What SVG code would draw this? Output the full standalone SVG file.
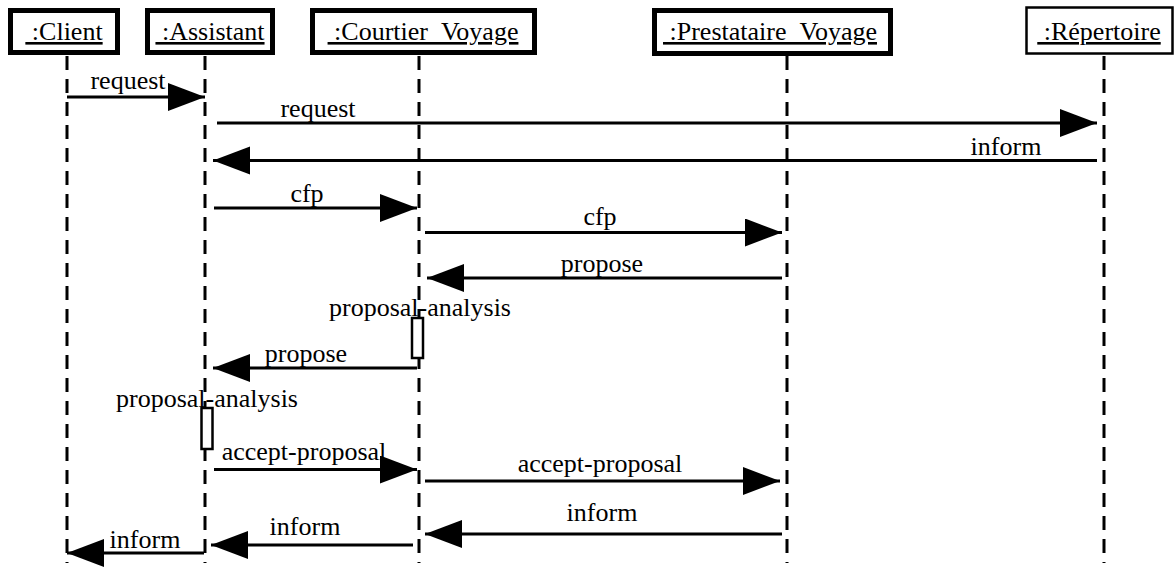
<svg xmlns="http://www.w3.org/2000/svg" width="1176" height="567" viewBox="0 0 1176 567">
<defs>
<marker id="ah" markerUnits="userSpaceOnUse" markerWidth="40" markerHeight="30" refX="37" refY="14" orient="auto">
<path d="M0,0 L37,14 L0,28 Z" fill="#000"/>
</marker>
<style>
text{font-family:"Liberation Serif","Times New Roman",serif;font-size:26px;fill:#000}
.t{text-anchor:middle}
.obj{fill:#fff;stroke:#000;stroke-width:5}
.obj2{fill:#fff;stroke:#000;stroke-width:2.5}
.name{text-anchor:middle;text-decoration:underline}
.life{stroke:#000;stroke-width:3;stroke-dasharray:14 9;fill:none}
.msg{stroke:#000;stroke-width:3;fill:none;marker-end:url(#ah)}
.act{fill:#fff;stroke:#000;stroke-width:2.5}
</style>
</defs>
<rect width="1176" height="567" fill="#fff"/>
<g id="lifelines">
<line class="life" x1="67" y1="56" x2="67" y2="563"/>
<line class="life" x1="205" y1="56" x2="205" y2="563"/>
<line class="life" x1="419" y1="56" x2="419" y2="563"/>
<line class="life" x1="787" y1="56" x2="787" y2="563"/>
<line class="life" x1="1104" y1="56" x2="1104" y2="563"/>
</g>
<g id="client">
<rect class="obj" x="10.5" y="10.5" width="107" height="42"/>
<text class="name" x="64" y="40" xml:space="preserve"> :Client</text>
</g>
<g id="assistant">
<rect class="obj" x="147.5" y="10.5" width="125" height="42"/>
<text class="name" x="210" y="40" xml:space="preserve"> :Assistant</text>
</g>
<g id="courtier">
<rect class="obj" x="312.5" y="10.5" width="222" height="42"/>
<text class="name" x="423" y="40" xml:space="preserve"> :Courtier_Voyage</text>
</g>
<g id="prestataire">
<rect class="obj" x="654.5" y="10.5" width="236" height="43"/>
<text class="name" x="770" y="40" xml:space="preserve"> :Prestataire_Voyage</text>
</g>
<g id="repertoire">
<rect class="obj2" x="1026.5" y="7.5" width="146" height="46"/>
<text class="name" x="1099" y="40" xml:space="preserve"> :Répertoire</text>
</g>
<g id="activation-courtier">
<rect class="act" x="412" y="318" width="11" height="40"/>
</g>
<g id="activation-assistant">
<rect class="act" x="201.5" y="408" width="11" height="41"/>
</g>
<g id="connectors">
<line class="msg" x1="67" y1="97" x2="205" y2="97"/>
<line class="msg" x1="217" y1="123" x2="1097" y2="123"/>
<line class="msg" x1="1097" y1="160.5" x2="213" y2="160.5"/>
<line class="msg" x1="214" y1="208" x2="417" y2="208"/>
<line class="msg" x1="425" y1="232.5" x2="782" y2="232.5"/>
<line class="msg" x1="782" y1="278" x2="427" y2="278"/>
<line class="msg" x1="417" y1="368" x2="213" y2="368"/>
<line class="msg" x1="214" y1="469.5" x2="417" y2="469.5"/>
<line class="msg" x1="425" y1="481" x2="780" y2="481"/>
<line class="msg" x1="782" y1="534" x2="425" y2="534"/>
<line class="msg" x1="413" y1="545" x2="211" y2="545"/>
<line class="msg" x1="204" y1="553" x2="67" y2="553"/>
</g>
<g id="labels">
<text class="t" x="128" y="89">request</text>
<text class="t" x="318" y="117">request</text>
<text class="t" x="1006" y="155">inform</text>
<text class="t" x="307" y="202">cfp</text>
<text class="t" x="600" y="225">cfp</text>
<text class="t" x="602" y="272">propose</text>
<text class="t" x="420" y="316">proposal-analysis</text>
<text class="t" x="306" y="362">propose</text>
<text class="t" x="207" y="407">proposal-analysis</text>
<text class="t" x="304" y="460">accept-proposal</text>
<text class="t" x="600" y="472">accept-proposal</text>
<text class="t" x="602" y="521">inform</text>
<text class="t" x="305" y="535">inform</text>
<text class="t" x="145" y="548">inform</text>
</g>
</svg>
